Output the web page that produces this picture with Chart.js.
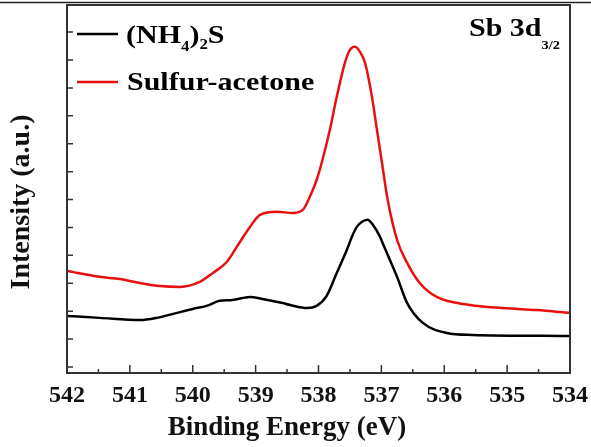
<!DOCTYPE html>
<html>
<head>
<meta charset="utf-8">
<script src="https://cdn.jsdelivr.net/npm/chart.js@4.4.1/dist/chart.umd.min.js"></script>
<style>
  html, body { margin: 0; padding: 0; background: #fff; }
  #wrap { width: 591px; height: 447px; position: relative; }
</style>
</head>
<body>
<div id="wrap"><canvas id="graphCanvas" width="591" height="447"></canvas></div>
<script>
// Dados (energia de ligação em eV, intensidade em u.a.)
const energiaPreto = [542.00, 541.48, 540.84, 540.57, 540.25, 540.00, 539.78, 539.57, 539.37, 539.09, 538.89, 538.57, 538.45, 538.18, 538.03, 537.87, 537.71, 537.55, 537.47, 537.39, 537.29, 537.22, 537.13, 537.02, 536.98, 536.75, 536.59, 536.34, 535.96, 535.55, 534.00];
const intensPreto = [1.83, 1.76, 1.68, 1.76, 1.94, 2.08, 2.19, 2.37, 2.40, 2.51, 2.44, 2.29, 2.22, 2.11, 2.19, 2.55, 3.37, 4.19, 4.66, 5.02, 5.23, 5.28, 5.08, 4.66, 4.44, 3.23, 2.29, 1.58, 1.22, 1.15, 1.11];

const energiaVermelho = [542.00, 541.48, 541.16, 540.84, 540.52, 540.20, 539.89, 539.68, 539.46, 539.25, 539.09, 538.93, 538.66, 538.41, 538.25, 538.14, 538.03, 537.95, 537.82, 537.71, 537.58, 537.50, 537.42, 537.34, 537.26, 537.15, 537.07, 536.99, 536.90, 536.75, 536.59, 536.39, 536.12, 535.59, 535.07, 534.53, 534.00];
const intensVermelho = [3.44, 3.23, 3.15, 3.01, 2.90, 2.87, 3.05, 3.37, 3.76, 4.48, 5.02, 5.45, 5.56, 5.52, 5.63, 6.09, 6.70, 7.31, 8.49, 9.68, 10.90, 11.36, 11.47, 11.29, 10.90, 9.68, 8.49, 7.31, 5.99, 4.55, 3.73, 3.01, 2.51, 2.22, 2.11, 2.04, 1.94];

const rotulosX = [542, 541, 540, 539, 538, 537, 536, 535, 534];
const tituloX = 'Binding Energy (eV)';
const tituloY = 'Intensity (a.u.)';
const fonte = '"Liberation Serif", "Times New Roman", serif';
const vermelho = '#e8100f';

function pontos(xs, ys) {
  return xs.map((x, i) => ({ x: x, y: ys[i] }));
}

// Texto com subscritos, levemente esticado na horizontal como na figura
function textoRico(ctx, x, y, partes) {
  ctx.save();
  ctx.translate(x, y);
  ctx.scale(1.2, 1);
  let cx = 0;
  partes.forEach(p => {
    ctx.font = 'bold ' + p.size + 'px ' + fonte;
    ctx.fillText(p.t, cx, p.dy || 0);
    cx += ctx.measureText(p.t).width;
  });
  ctx.restore();
}

const decoracao = {
  id: 'decoracao',
  afterDraw(chart) {
    const ctx = chart.ctx;
    const area = chart.chartArea;
    const sx = chart.scales.x;
    const sy = chart.scales.y;
    ctx.save();
    // linha no topo da imagem
    ctx.strokeStyle = '#222';
    ctx.lineWidth = 1.5;
    ctx.beginPath();
    ctx.moveTo(0, 2.5);
    ctx.lineTo(chart.width, 2.5);
    ctx.stroke();
    // moldura
    ctx.strokeStyle = '#333';
    ctx.lineWidth = 2;
    ctx.strokeRect(area.left, area.top, area.right - area.left, area.bottom - area.top);
    // marcas internas
    ctx.lineWidth = 1.5;
    ctx.beginPath();
    sx.ticks.forEach(t => {
      const px = sx.getPixelForValue(t.value);
      const len = Number.isInteger(t.value) ? 8 : 4;
      ctx.moveTo(px, area.bottom);
      ctx.lineTo(px, area.bottom - len);
    });
    sy.ticks.forEach(t => {
      if (!Number.isInteger(t.value)) return;
      const py = sy.getPixelForValue(t.value);
      ctx.moveTo(area.left, py);
      ctx.lineTo(area.left + 6, py);
    });
    ctx.stroke();
    // títulos dos eixos
    ctx.fillStyle = '#111';
    ctx.textAlign = 'center';
    ctx.textBaseline = 'middle';
    ctx.font = 'bold 27px ' + fonte;
    ctx.fillText(tituloX, 287, 428);
    ctx.save();
    ctx.translate(22, 202);
    ctx.rotate(-Math.PI / 2);
    ctx.font = 'bold 28px ' + fonte;
    ctx.fillText(tituloY, 0, 0);
    ctx.restore();
    // legenda
    ctx.textAlign = 'left';
    ctx.textBaseline = 'alphabetic';
    ctx.lineWidth = 2.5;
    ctx.strokeStyle = '#000';
    ctx.beginPath(); ctx.moveTo(77, 34); ctx.lineTo(118, 34); ctx.stroke();
    ctx.strokeStyle = vermelho;
    ctx.beginPath(); ctx.moveTo(77, 82); ctx.lineTo(118, 82); ctx.stroke();
    ctx.fillStyle = '#000';
    textoRico(ctx, 126, 43, [
      { t: '(NH', size: 25 }, { t: '4', size: 14, dy: 8 }, { t: ')', size: 25 },
      { t: '2', size: 14, dy: 6 }, { t: 'S', size: 25 }
    ]);
    textoRico(ctx, 127, 90, [{ t: 'Sulfur-acetone', size: 25 }]);
    textoRico(ctx, 469, 36, [{ t: 'Sb 3d', size: 25 }, { t: '3/2', size: 12, dy: 13 }]);
    ctx.restore();
  }
};

const ctx = document.getElementById('graphCanvas').getContext('2d');
new Chart(ctx, {
  type: 'line',
  data: {
    datasets: [{
      label: '(NH4)2S',
      data: pontos(energiaPreto, intensPreto),
      borderColor: '#000',
      borderWidth: 2.5,
      pointRadius: 0,
      cubicInterpolationMode: 'monotone',
      fill: false
    }, {
      label: 'Sulfur-acetone',
      data: pontos(energiaVermelho, intensVermelho),
      borderColor: vermelho,
      borderWidth: 2.5,
      pointRadius: 0,
      cubicInterpolationMode: 'monotone',
      fill: false
    }]
  },
  options: {
    responsive: false,
    animation: false,
    layout: { padding: { top: 5, right: 21, left: 0, bottom: 0 } },
    plugins: { legend: { display: false }, tooltip: { enabled: false } },
    scales: {
      x: {
        type: 'linear',
        reverse: true,
        min: 534,
        max: 542,
        afterFit: s => { s.height = 74; s.paddingLeft = 0; s.paddingRight = 0; },
        grid: { display: false, drawTicks: false },
        border: { display: false },
        ticks: {
          stepSize: 0.5,
          autoSkip: false,
          maxRotation: 0,
          padding: 8,
          color: '#111',
          font: { family: fonte, size: 24, weight: 'bold' },
          callback: v => rotulosX.includes(v) ? String(v) : ''
        }
      },
      y: {
        min: -0.215,
        max: 12.97,
        afterFit: s => { s.width = 67; s.paddingTop = 0; s.paddingBottom = 0; },
        grid: { display: false, drawTicks: false },
        border: { display: false },
        ticks: { display: false, stepSize: 1, includeBounds: false }
      }
    }
  },
  plugins: [decoracao]
});
</script>
</body>
</html>
